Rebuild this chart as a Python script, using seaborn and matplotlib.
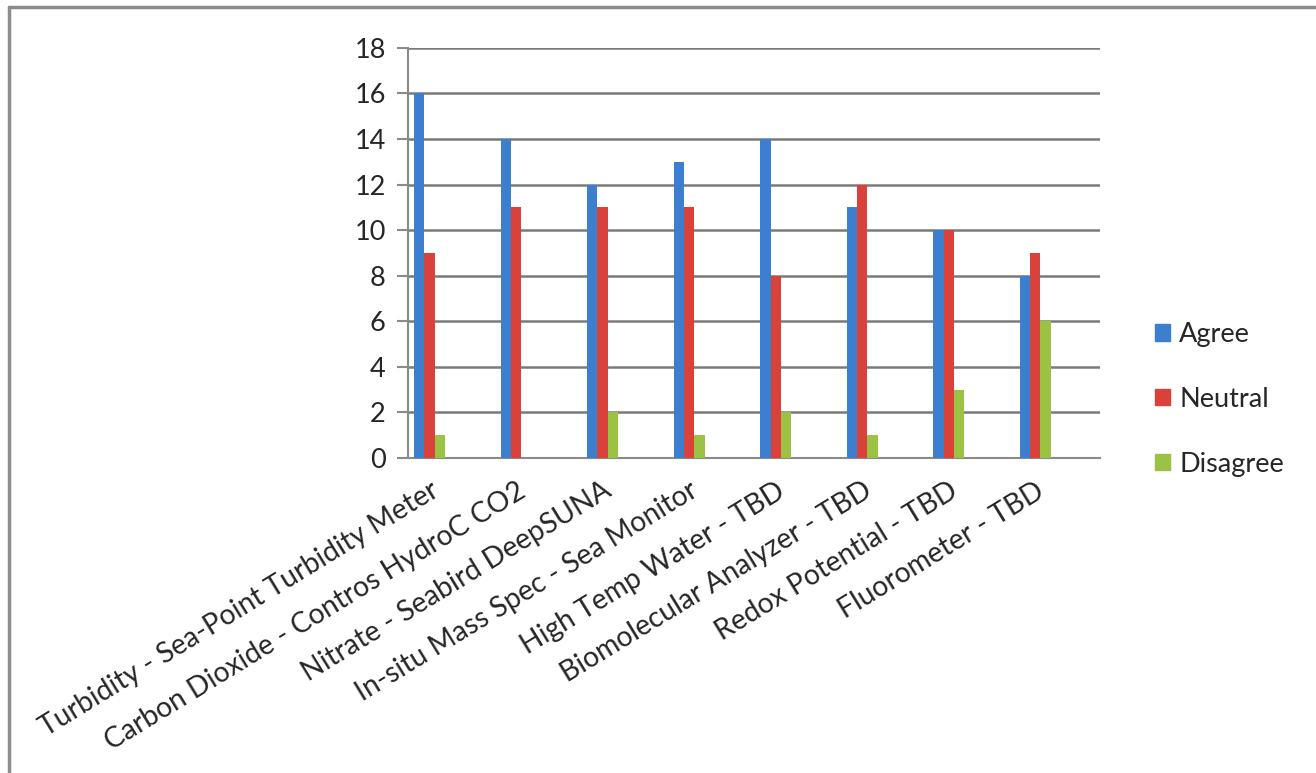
import numpy as np
import pandas as pd
import matplotlib
matplotlib.use('Agg')
import matplotlib.pyplot as plt
import seaborn as sns
from matplotlib.lines import Line2D

# Daten
categories = ['Turbidity - Sea-Point Turbidity Meter',
              'Carbon Dioxide - Contros HydroC CO2',
              'Nitrate - Seabird DeepSUNA',
              'In-situ Mass Spec - Sea Monitor',
              'High Temp Water - TBD',
              'Biomolecular Analyzer - TBD',
              'Redox Potential - TBD',
              'Fluorometer - TBD']
agree = [16, 14, 12, 13, 14, 11, 10, 8]
neutral = [9, 11, 11, 11, 8, 12, 10, 9]
disagree = [1, 0, 2, 1, 2, 1, 3, 6]
series = ['Agree', 'Neutral', 'Disagree']

df = pd.DataFrame({
    'category': categories * 3,
    'answer': [s for s in series for _ in categories],
    'count': agree + neutral + disagree,
})

sns.set_style('white')
plt.rcParams['font.family'] = ['Lato', 'DejaVu Sans']

fig = plt.figure(figsize=(13.16, 7.73), dpi=100)
ax = fig.add_axes([0.310, 0.4075, 0.526, 0.5305])

palette = {'Agree': '#3d7fcf', 'Neutral': '#d8423a', 'Disagree': '#9cc243'}
sns.barplot(data=df, x='category', y='count', hue='answer', order=categories,
            hue_order=series, palette=palette, width=0.36, saturation=1,
            linewidth=0, ax=ax, legend=False, zorder=3)

ax.set_xlim(-0.25, 7.75)
ax.set_ylim(0, 18)
ax.set_yticks(range(0, 19, 2))
ax.yaxis.grid(True, color='#7a7a7a', linewidth=1.8, zorder=0)
ax.set_axisbelow(True)
ax.set_xlabel('')
ax.set_ylabel('')

for s in ['top', 'right']:
    ax.spines[s].set_visible(False)
for s in ['left', 'bottom']:
    ax.spines[s].set_color('#8a8a8a')
    ax.spines[s].set_linewidth(1.5)

ax.set_xticks(range(len(categories)))
ax.set_xticklabels(categories, rotation=31.5, ha='right', rotation_mode='anchor',
                   fontsize=20.3)
ax.set_xticks(np.arange(-0.25, 7.8, 0.5), minor=True)
ax.tick_params(axis='x', which='major', length=0, pad=14)
ax.tick_params(axis='x', which='minor', length=7, width=1.5, color='#8a8a8a', direction='out')
ax.tick_params(axis='y', length=8, width=1.5, color='#8a8a8a', direction='out',
               labelsize=19.5, pad=8, left=True)

# Legende
handles = [plt.Rectangle((0, 0), 1, 1, color=palette[s]) for s in series]
fig.legend(handles, series, loc='upper left', bbox_to_anchor=(0.859, 0.615),
           frameon=False, fontsize=19.5, labelspacing=1.47, handlelength=0.55,
           handleheight=0.55, handletextpad=0.35)

# Rahmen
fig.add_artist(Line2D([9 / 1316, 1], [1 - 7 / 773, 1 - 7 / 773], color='#8c8c8c', linewidth=2.5))
fig.add_artist(Line2D([9 / 1316, 9 / 1316], [0, 1 - 7 / 773], color='#8c8c8c', linewidth=2.5))

plt.savefig('out.png', dpi=100)
plt.close()
